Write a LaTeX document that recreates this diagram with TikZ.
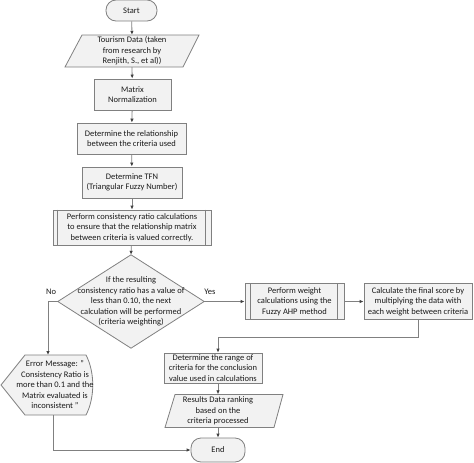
\documentclass[tikz,border=0pt]{standalone}
\usepackage{fontspec}
\setmainfont{Carlito}
\usetikzlibrary{arrows.meta,calc,backgrounds}
\definecolor{boxfill}{HTML}{F2F2F2}
\definecolor{boxline}{HTML}{808080}
\definecolor{tipcol}{HTML}{404040}
\definecolor{txt}{HTML}{1A1A1A}
\begin{document}
\begin{tikzpicture}[x=1pt,y=-1pt,
  every node/.style={font=\fontsize{8.5}{10.5}\selectfont, text=txt, align=center, inner sep=0pt},
  box/.style={draw=boxline, fill=boxfill, line width=0.8pt},
  term/.style={box, rounded corners=10pt},
  shapeline/.style={draw=boxline, fill=boxfill, line width=0.8pt},
  conn/.style={draw=boxline, line width=0.8pt, -{Latex[length=4pt,width=3.5pt,color=tipcol]}},
  plain/.style={draw=boxline, line width=0.8pt},
  lbl/.style={font=\fontsize{8.5}{10}\selectfont}]
\useasboundingbox (0,0) rectangle (474,463);

% Start
\node[term, minimum width=51, minimum height=21] (start) at (131.5,10.5) {Start};

% Tourism data (parallelogram)
\node[minimum width=100, minimum height=32] (data) at (132,51) {Tourism Data (taken\\from research by\\Renjith, S., et al))};
\begin{scope}[on background layer]
  \path[shapeline] (82,35) -- (199,35) -- (183,67) -- (65,67) -- cycle;
\end{scope}

\node[box, minimum width=77, minimum height=31] (norm) at (132.5,94.5) {Matrix\\Normalization};
\node[box, minimum width=109, minimum height=31] (rel) at (131.5,138.5) {Determine the relationship\\between the criteria used};
\node[box, minimum width=100, minimum height=31] (tfn) at (132,182.5) {Determine TFN\\(Triangular Fuzzy Number)};
\node[box, minimum width=158, minimum height=35] (cons) at (132,227.5) {Perform consistency ratio calculations\\to ensure that the relationship matrix\\between criteria is valued correctly.};
\draw[plain] ($(cons.north west)+(5,0)$) -- ($(cons.south west)+(5,0)$);
\draw[plain] ($(cons.north east)+(-6,0)$) -- ($(cons.south east)+(-6,0)$);

% Decision
\node[minimum width=146, minimum height=93] (dec) at (131,301.5) {If the resulting\\consistency ratio has a value of\\less than 0.10, the next\\calculation will be performed\\(criteria weighting)};
\begin{scope}[on background layer]
  \path[shapeline] (dec.north) -- (dec.east) -- (dec.south) -- (dec.west) -- cycle;
\end{scope}
\node[lbl] (no) at (51,292) {No};
\node[lbl] (yes) at (210,292) {Yes};

% Weight and final score
\node[box, minimum width=99, minimum height=36] (weight) at (294.5,301.5) {Perform weight\\calculations using the\\Fuzzy AHP method};
\draw[plain] ($(weight.north west)+(6,0)$) -- ($(weight.south west)+(6,0)$);
\draw[plain] ($(weight.north east)+(-7,0)$) -- ($(weight.south east)+(-7,0)$);
\node[box, minimum width=108, minimum height=36] (final) at (418,301.5) {Calculate the final score by\\multiplying the data with\\each weight between criteria};

% Error message (display shape)
\node[minimum width=80, minimum height=60] (err) at (55,385) {Error Message: "\\Consistency Ratio is\\more than 0.1 and the\\Matrix evaluated is\\inconsistent "};
\begin{scope}[on background layer]
  \path[shapeline] (1,385) -- (25,355) -- (86,355) .. controls (95,372) and (95,398) .. (86,415) -- (25,415) -- cycle;
\end{scope}
\coordinate (errtop) at (48,355);
\coordinate (errbot) at (53,415);

% Range, results, end
\coordinate (col) at (218,337);
\node[box, minimum width=98, minimum height=30] (range) at (213,368) {Determine the range of\\criteria for the conclusion\\value used in calculations};
\node[minimum width=90, minimum height=33] (res) at (218,411) {Results Data ranking\\based on the\\criteria processed};
\begin{scope}[on background layer]
  \path[shapeline] (175,394.5) -- (283,394.5) -- (274,427.5) -- (165,427.5) -- cycle;
\end{scope}
\node[term, minimum width=54, minimum height=24] (end) at (218,450) {End};

% Connectors
\draw[conn] (start) -- (data.north);
\draw[conn] (data.south) -- (norm);
\draw[conn] (norm) -- (rel);
\draw[conn] (rel) -- (tfn);
\draw[conn] (tfn) -- (cons);
\draw[conn] (cons) -- (dec.north);
\draw[conn] (dec.west) -| (errtop);
\draw[conn] (dec.east) -- (weight);
\draw[conn] (weight) -- (final);
\draw[conn] (final.south) |- (col) -- (col |- range.north);
\draw[conn] (col |- range.south) -- (res.north);
\draw[conn] (res.south) -- (end);
\draw[conn] (errbot) |- (end.west);
\end{tikzpicture}
\end{document}
